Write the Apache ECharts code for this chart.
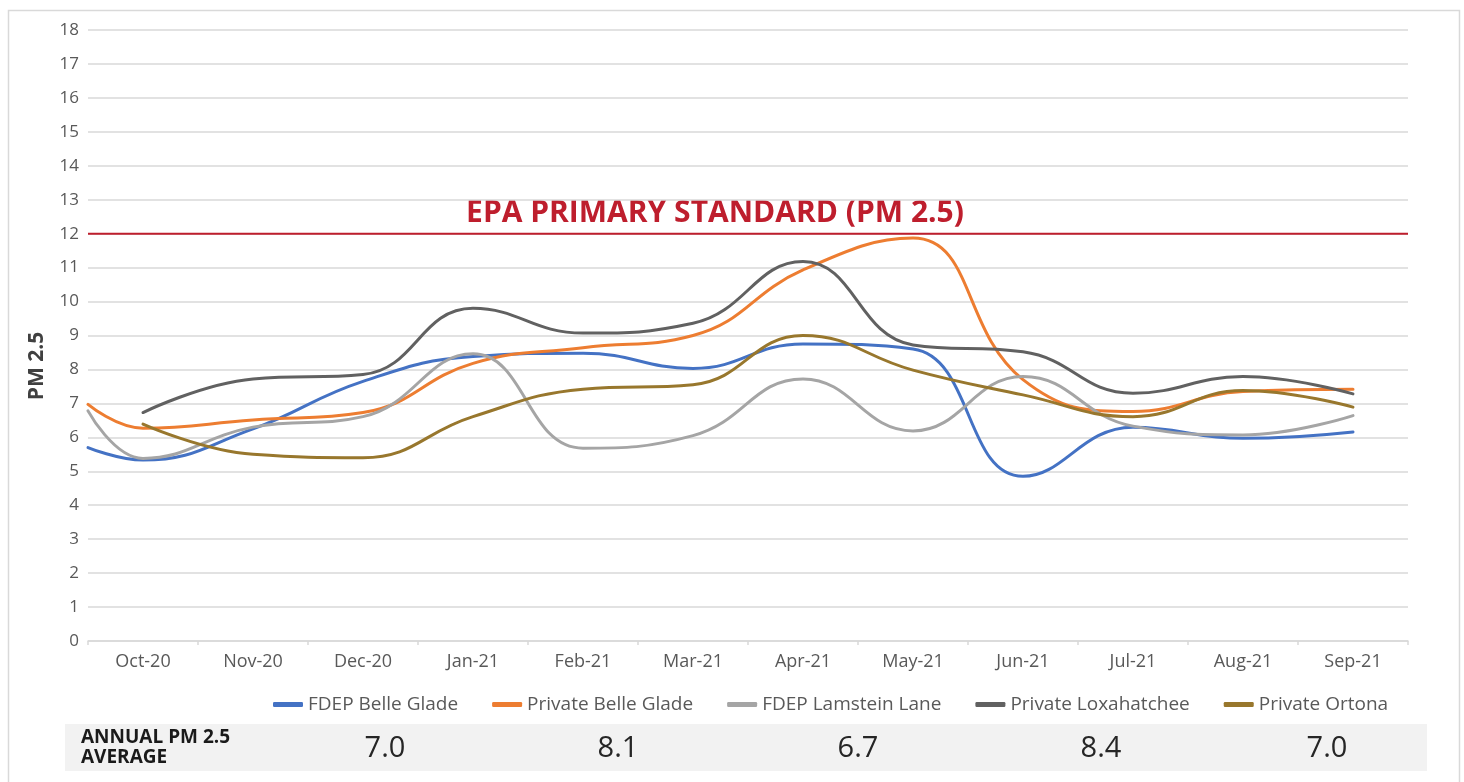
<!DOCTYPE html>
<html>
<head>
<meta charset="utf-8">
<script src="https://cdn.jsdelivr.net/npm/echarts@6/dist/echarts.min.js"></script>
<style>
  html, body { margin: 0; padding: 0; background: #ffffff; }
  #chart { width: 1464px; height: 782px; }
</style>
</head>
<body>
<div id="chart"></div>
<script>
// ---- Data ----
const categories = ['Oct-20', 'Nov-20', 'Dec-20', 'Jan-21', 'Feb-21', 'Mar-21', 'Apr-21', 'May-21', 'Jun-21', 'Jul-21', 'Aug-21', 'Sep-21'];
const yTicks = [0, 18, 1];
// first entry = value at the left edge of the plot, then one value per month
const fdepBelleGlade     = [5.70, 5.33, 6.25, 7.65, 8.38, 8.48, 8.03, 8.75, 8.60, 4.85, 6.30, 5.97, 6.16];
const privateBelleGlade  = [6.97, 6.27, 6.51, 6.73, 8.18, 8.64, 9.00, 10.93, 11.87, 7.70, 6.76, 7.35, 7.42];
const fdepLamsteinLane   = [6.78, 5.38, 6.30, 6.61, 8.46, 5.68, 6.05, 7.72, 6.19, 7.79, 6.33, 6.07, 6.64];
const privateLoxahatchee = [null, 6.73, 7.72, 7.85, 9.80, 9.07, 9.36, 11.18, 8.72, 8.52, 7.30, 7.79, 7.28];
const privateOrtona      = [null, 6.39, 5.50, 5.40, 6.61, 7.42, 7.55, 9.00, 7.98, 7.25, 6.61, 7.38, 6.89];
const epaStandard = 12;
const epaLabel = 'EPA PRIMARY STANDARD (PM 2.5)';
const yAxisTitle = 'PM 2.5';
const annualLabel = 'ANNUAL PM 2.5\nAVERAGE';
const annualAverages = ['7.0', '8.1', '6.7', '8.4', '7.0'];

const seriesDefs = [
  { name: 'FDEP Belle Glade', values: fdepBelleGlade, color: '#4472C4' },
  { name: 'Private Belle Glade', values: privateBelleGlade, color: '#ED7D31' },
  { name: 'FDEP Lamstein Lane', values: fdepLamsteinLane, color: '#A5A5A5' },
  { name: 'Private Loxahatchee', values: privateLoxahatchee, color: '#616161' },
  { name: 'Private Ortona', values: privateOrtona, color: '#98772D' }
];

function toPoints(values) {
  const pts = [];
  values.forEach((v, i) => {
    if (v === null) return;
    pts.push([i === 0 ? 0 : i - 0.5, v]);
  });
  return pts;
}

const FONT = '"Open Sans", "Noto Sans", sans-serif';

const chart = echarts.init(document.getElementById('chart'), null, { renderer: 'canvas' });

const series = seriesDefs.map(d => ({
  name: d.name,
  type: 'line',
  xAxisIndex: 1,
  yAxisIndex: 0,
  data: toPoints(d.values),
  smooth: 0.45,
  showSymbol: false,
  symbol: 'none',
  lineStyle: { color: d.color, width: 3, cap: 'round' },
  itemStyle: { color: d.color },
  emphasis: { disabled: true },
  z: 3
}));

series.push({
  name: 'EPA',
  type: 'line',
  xAxisIndex: 1,
  yAxisIndex: 0,
  data: [[0, epaStandard], [categories.length, epaStandard]],
  showSymbol: false,
  symbol: 'none',
  lineStyle: { color: '#BE1E2D', width: 2 },
  emphasis: { disabled: true },
  z: 2
});

// annual average texts
const avgX = [385, 618, 858, 1101, 1327];
const graphics = [
  {
    type: 'rect', left: 6, top: 8, silent: true,
    shape: { width: 1451, height: 800 },
    style: { fill: 'none', stroke: '#D9D9D9', lineWidth: 1.5 }
  },
  {
    type: 'rect', left: 65, top: 724, silent: true,
    shape: { width: 1362, height: 47 },
    style: { fill: '#F2F2F2' }
  },
  {
    type: 'text', left: 81, top: 728, silent: true,
    style: { text: annualLabel, font: 'bold 19px ' + FONT, fill: '#1A1A1A', lineHeight: 19.5 }
  },
  {
    type: 'text', silent: true, x: 715, y: 213,
    style: { text: epaLabel, font: 'bold 30px ' + FONT, fill: '#BE1E2D', align: 'center', verticalAlign: 'middle' }
  },
  {
    type: 'text', silent: true, x: 37, y: 366, rotation: Math.PI / 2,
    style: { text: yAxisTitle, font: 'bold 21px ' + FONT, fill: '#404040', align: 'center', verticalAlign: 'middle' }
  }
];
annualAverages.forEach((t, i) => {
  graphics.push({
    type: 'text', silent: true, x: avgX[i], y: 749,
    style: { text: t, font: '29px ' + FONT, fill: '#262626', align: 'center', verticalAlign: 'middle' }
  });
});

const option = {
  backgroundColor: '#ffffff',
  animation: false,
  textStyle: { fontFamily: FONT },
  grid: { left: 88, right: 56, top: 30, bottom: 141, containLabel: false },
  legend: {
    data: seriesDefs.map(d => d.name),
    left: 268,
    top: 690,
    icon: 'roundRect',
    itemWidth: 30,
    itemHeight: 5,
    itemGap: 34,
    textStyle: { fontSize: 19, color: '#595959', fontFamily: FONT }
  },
  xAxis: [
    {
      type: 'category',
      data: categories,
      boundaryGap: true,
      axisLine: { lineStyle: { color: '#D9D9D9', width: 1.5 } },
      axisTick: { show: true, length: 4, lineStyle: { color: '#D9D9D9', width: 1.5 } },
      axisLabel: { fontSize: 18, color: '#595959', margin: 12, fontFamily: FONT },
      splitLine: { show: false }
    },
    {
      type: 'value',
      min: 0,
      max: categories.length,
      show: false,
      splitLine: { show: false }
    }
  ],
  yAxis: [{
    type: 'value',
    min: yTicks[0],
    max: yTicks[1],
    interval: yTicks[2],
    axisLine: { show: false },
    axisTick: { show: false },
    axisLabel: { fontSize: 17, color: '#595959', margin: 9, fontFamily: FONT },
    splitLine: { lineStyle: { color: '#D9D9D9', width: 1.5 } }
  }],
  series: series,
  graphic: graphics
};

chart.setOption(option);
</script>
</body>
</html>
